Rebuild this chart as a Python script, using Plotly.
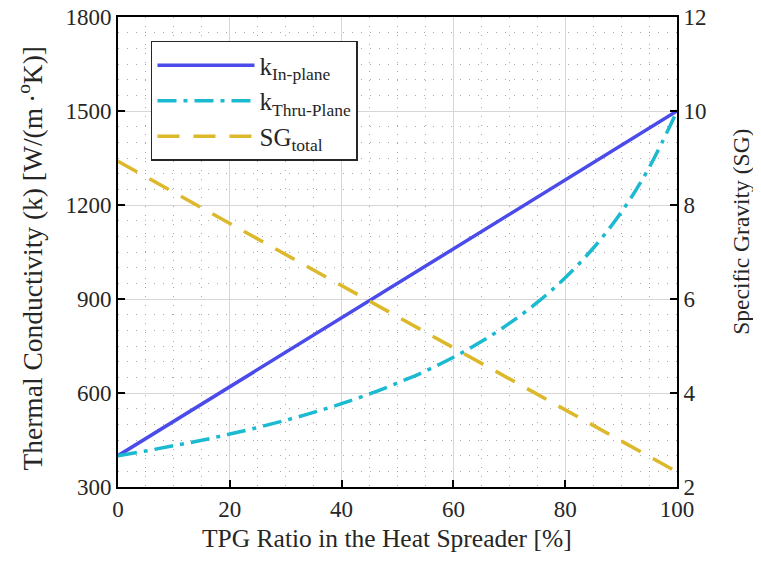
import plotly.graph_objects as go

tpg_ratio = [0, 5, 10, 15, 20, 25, 30, 35, 40, 45, 50, 55, 60, 65, 70, 75, 80, 85, 90, 95, 100]
k_in_plane = [400, 455, 510, 565, 620, 675, 730, 785, 840, 895, 950, 1005, 1060, 1115, 1170, 1225, 1280, 1335, 1390, 1445, 1500]
k_thru_plane = [400, 415, 432, 449, 469, 490, 513, 538, 566, 597, 632, 670, 714, 764, 822, 889, 968, 1062, 1176, 1319, 1500]
sg_x = [0, 100]
sg_total = [8.93, 2.32]

x_title = "TPG Ratio in the Heat Spreader [%]"
y_title = "Thermal Conductivity (k) [W/(m<sub> </sub>·<sup>o</sup>K)]"
y2_title = "Specific Gravity (SG)"

FONT = "Liberation Serif, Times New Roman, serif"
TXT = "#262626"
TICK = 23

fig = go.Figure()
fig.add_trace(go.Scatter(x=tpg_ratio, y=k_in_plane, mode="lines",
                         name="k<sub>In-plane</sub>",
                         line=dict(color="#4b4bea", width=3.5)))
fig.add_trace(go.Scatter(x=tpg_ratio, y=k_thru_plane, mode="lines",
                         name="k<sub>Thru-Plane</sub>",
                         line=dict(color="#1bbad0", width=3.5, shape="spline",
                                   dash="19px,7px,4px,7px")))
fig.add_trace(go.Scatter(x=sg_x, y=sg_total, mode="lines", yaxis="y2",
                         name="SG<sub>total</sub>",
                         line=dict(color="#dcb82a", width=3.5, dash="22px,14px")))

axis_common = dict(
    showline=True, linecolor="#000000", linewidth=2,
    ticks="inside", ticklen=7, tickwidth=2, tickcolor="#000000",
    tickfont=dict(family=FONT, size=TICK, color=TXT),
    showgrid=True, gridcolor="#d6d6d6", gridwidth=1,
    zeroline=False, automargin=False, ticklabeloverflow="allow",
)

fig.update_layout(
    width=753, height=553,
    margin=dict(l=110, r=84, t=9, b=74),
    paper_bgcolor="white", plot_bgcolor="white",
    font=dict(family=FONT, size=24, color=TXT),
    showlegend=True,
    legend=dict(x=0.059, y=0.949, xanchor="left", yanchor="top",
                bgcolor="white", bordercolor="#262626", borderwidth=1.5,
                font=dict(family=FONT, size=25, color=TXT),
                itemwidth=97),
    xaxis=dict(range=[0, 100], tickvals=[0, 20, 40, 60, 80, 100],
               mirror=True,
               minor=dict(dtick=5, showgrid=True, gridcolor="#a8a8a8",
                          griddash="1px,8px", gridwidth=1),
               **axis_common),
    yaxis=dict(range=[300, 1800], tickvals=[300, 600, 900, 1200, 1500, 1800],
               mirror=True,
               minor=dict(dtick=50, showgrid=True, gridcolor="#a8a8a8",
                          griddash="1px,8px", gridwidth=1),
               **axis_common),
    yaxis2=dict(range=[2, 12], tickvals=[2, 4, 6, 8, 10, 12],
                overlaying="y", side="right", showgrid=False,
                showline=True, linecolor="#000000", linewidth=2,
                ticks="inside", ticklen=7, tickwidth=2, tickcolor="#000000",
                tickfont=dict(family=FONT, size=TICK, color=TXT),
                zeroline=False, automargin=False, ticklabeloverflow="allow"),
)

fig.add_annotation(text=x_title, xref="paper", yref="paper", x=0.482, y=0,
                   xanchor="center", yanchor="middle", yshift=-51, showarrow=False,
                   font=dict(family=FONT, size=25.5, color=TXT))
fig.add_annotation(text=y_title, xref="paper", yref="paper", x=0, y=0.486,
                   xanchor="center", yanchor="middle", xshift=-86, textangle=-90,
                   showarrow=False, font=dict(family=FONT, size=27.5, color=TXT))
fig.add_annotation(text=y2_title, xref="paper", yref="paper", x=1, y=0.543,
                   xanchor="center", yanchor="middle", xshift=64, textangle=-90,
                   showarrow=False, font=dict(family=FONT, size=23.5, color=TXT))

fig.write_html("out.html")
